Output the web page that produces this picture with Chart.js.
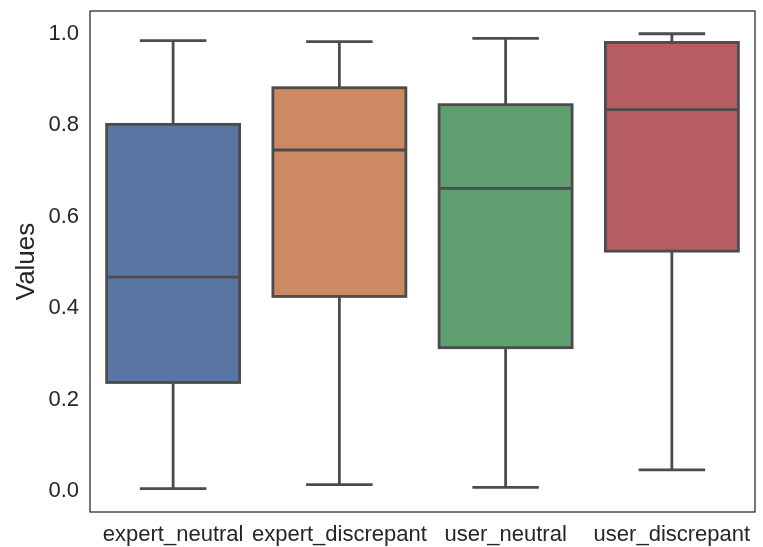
<!DOCTYPE html>
<html>
<head>
<meta charset="utf-8">
<script src="https://cdn.jsdelivr.net/npm/chart.js@4/dist/chart.umd.min.js"></script>
<style>
  body { margin: 0; background: #ffffff; }
</style>
</head>
<body>
<canvas id="box_chart" width="763" height="547"></canvas>
<script>
// values
var categories = ["expert_neutral", "expert_discrepant", "user_neutral", "user_discrepant"];
var whiskerLow  = [0.006, 0.015, 0.009, 0.047];
var q1          = [0.238, 0.426, 0.314, 0.525];
var median      = [0.468, 0.746, 0.662, 0.834];
var q3          = [0.802, 0.882, 0.845, 0.981];
var whiskerHigh = [0.985, 0.983, 0.990, 1.000];
var yTicks      = [0.0, 0.2, 0.4, 0.6, 0.8, 1.0];

var boxColors = ["#5875a4", "#cc8963", "#5f9e6e", "#b55d60"];
var lineColor = "#4c4c4c";
var textColor = "#262626";
var fontFamily = "'Liberation Sans', Arial, sans-serif";

//floating bars for the boxes
var boxes = [];
for (var i = 0; i < categories.length; i++) {
    boxes.push([q1[i], q3[i]]);
}

//draws whiskers, caps, medians and box outlines on top of the bars
var boxLines = {
    id: "boxLines",
    afterDatasetsDraw: function(chart) {
        var ctx = chart.ctx;
        var y = chart.scales.y;
        var meta = chart.getDatasetMeta(0);
        ctx.save();
        ctx.strokeStyle = lineColor;
        ctx.lineWidth = 2.8;
        ctx.lineCap = "butt";
        for (var i = 0; i < meta.data.length; i++) {
            var bar = meta.data[i];
            var cx = bar.x;
            var half = bar.width / 2;
            var yLo = y.getPixelForValue(whiskerLow[i]);
            var yQ1 = y.getPixelForValue(q1[i]);
            var yMed = y.getPixelForValue(median[i]);
            var yQ3 = y.getPixelForValue(q3[i]);
            var yHi = y.getPixelForValue(whiskerHigh[i]);

            ctx.beginPath();
            //whiskers
            ctx.moveTo(cx, yQ1); ctx.lineTo(cx, yLo);
            ctx.moveTo(cx, yQ3); ctx.lineTo(cx, yHi);
            //caps
            ctx.moveTo(cx - half / 2, yLo); ctx.lineTo(cx + half / 2, yLo);
            ctx.moveTo(cx - half / 2, yHi); ctx.lineTo(cx + half / 2, yHi);
            //median
            ctx.moveTo(cx - half, yMed); ctx.lineTo(cx + half, yMed);
            ctx.stroke();

            //box outline
            ctx.lineJoin = "miter";
            ctx.strokeRect(cx - half, yQ3, 2 * half, yQ1 - yQ3);
        }
        ctx.restore();

        //axes frame
        var a = chart.chartArea;
        ctx.save();
        ctx.strokeStyle = textColor;
        ctx.lineWidth = 1.25;
        ctx.strokeRect(a.left, a.top, a.right - a.left, a.bottom - a.top);
        ctx.restore();
    }
};

var ctx = document.getElementById("box_chart");

var chart = new Chart(ctx, {
    type: "bar",
    data: {
        labels: categories,
        datasets: [{
            data: boxes,
            backgroundColor: boxColors,
            borderWidth: 0,
            categoryPercentage: 0.8,
            barPercentage: 1.0
        }]
    },
    options: {
        responsive: false,
        animation: false,
        layout: {
            padding: { top: 11, right: 8, left: 0, bottom: 0 }
        },
        plugins: {
            legend: { display: false },
            tooltip: { enabled: false }
        },
        scales: {
            x: {
                grid: { display: false, drawTicks: false },
                border: { display: false },
                ticks: {
                    color: textColor,
                    padding: 10,
                    maxRotation: 0,
                    autoSkip: false,
                    font: { family: fontFamily, size: 22 }
                },
                afterFit: function(scale) {
                    scale.height = 35;
                    scale.paddingLeft = 0;
                    scale.paddingRight = 0;
                }
            },
            y: {
                min: -0.045,
                max: 1.0497,
                grid: { display: false, drawTicks: false },
                border: { display: false },
                ticks: {
                    color: textColor,
                    padding: 11,
                    font: { family: fontFamily, size: 22 },
                    callback: function(value) { return Number(value).toFixed(1); }
                },
                afterBuildTicks: function(scale) {
                    scale.ticks = yTicks.map(function(v) { return { value: v }; });
                },
                afterFit: function(scale) {
                    scale.width = 90;
                    scale.paddingTop = 0;
                    scale.paddingBottom = 0;
                },
                title: {
                    display: true,
                    text: "Values",
                    color: textColor,
                    padding: { top: 11, bottom: 0 },
                    font: { family: fontFamily, size: 26 }
                }
            }
        }
    },
    plugins: [boxLines]
});
</script>
</body>
</html>
